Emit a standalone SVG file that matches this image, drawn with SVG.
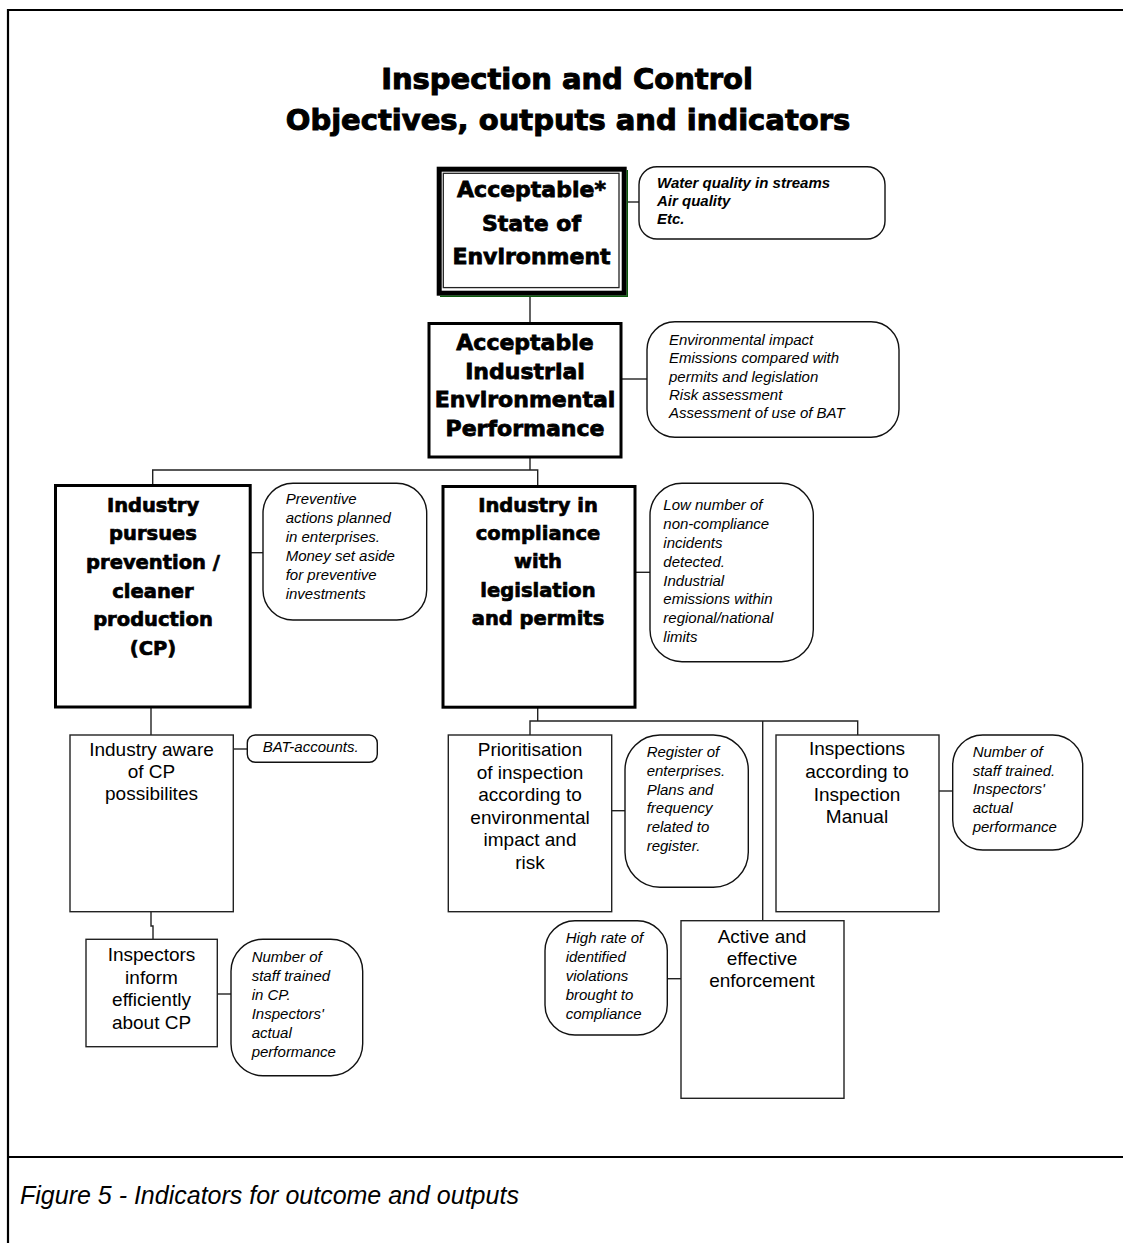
<svg xmlns="http://www.w3.org/2000/svg" width="1123" height="1243" viewBox="0 0 1123 1243">
  <style>
    .frame { fill: none; stroke: #000; stroke-width: 2.2; }
    .title { font-family: "DejaVu Sans", "Liberation Sans", sans-serif; font-weight: bold; font-size: 29px; text-anchor: middle; fill: #000; stroke: #000; stroke-width: 1; }
    .heavy { font-family: "DejaVu Sans", "Liberation Sans", sans-serif; font-weight: bold; font-size: 22px; text-anchor: middle; fill: #000; stroke: #000; stroke-width: 0.8; }
    .heavy-s { font-family: "DejaVu Sans", "Liberation Sans", sans-serif; font-weight: bold; font-size: 19.5px; text-anchor: middle; fill: #000; stroke: #000; stroke-width: 0.7; }
    .plain { font-family: "Liberation Sans", Arial, sans-serif; font-size: 19px; text-anchor: middle; fill: #000; }
    .note { font-family: "Liberation Sans", Arial, sans-serif; font-style: italic; font-size: 15px; fill: #000; }
    .note-b { font-family: "Liberation Sans", Arial, sans-serif; font-style: italic; font-weight: bold; font-size: 15px; fill: #000; }
    .caption { font-family: "Liberation Sans", Arial, sans-serif; font-style: italic; font-size: 25px; fill: #000; }
    .thick { fill: #fff; stroke: #000; stroke-width: 3; }
    .thin { fill: #fff; stroke: #222; stroke-width: 1.4; }
    .bubble { fill: #fff; stroke: #111; stroke-width: 1.4; }
    .link { fill: none; stroke: #222; stroke-width: 1.4; }
  </style>

  <rect width="1123" height="1243" fill="#fff"/>

  <!-- page frame and caption separator -->
  <g id="frame">
    <polyline class="frame" points="8,1243 8,10 1130,10"/>
    <line class="frame" x1="8" y1="1157" x2="1130" y2="1157" stroke-width="2.6"/>
  </g>

  <g id="title">
    <text class="title" x="567" y="89">Inspection and Control</text>
    <text class="title" x="568" y="130">Objectives, outputs and indicators</text>
  </g>

  <!-- connectors -->
  <g id="connectors">
    <line class="link" x1="627" y1="202" x2="639" y2="202"/>
    <line class="link" x1="530" y1="297" x2="530" y2="323"/>
    <line class="link" x1="622" y1="379" x2="647" y2="379"/>
    <line class="link" x1="530" y1="457" x2="530" y2="470"/>
    <polyline class="link" points="152.7,484 152.7,470 537.7,470 537.7,485"/>
    <line class="link" x1="251" y1="552.7" x2="263" y2="552.7"/>
    <line class="link" x1="635" y1="572.3" x2="650" y2="572.3"/>
    <line class="link" x1="151" y1="708" x2="151" y2="735"/>
    <line class="link" x1="233.3" y1="749" x2="247.3" y2="749"/>
    <polyline class="link" points="151,912 151,926 153,926 153,939.3"/>
    <line class="link" x1="217.3" y1="994" x2="231" y2="994"/>
    <line class="link" x1="537.7" y1="707.7" x2="537.7" y2="721"/>
    <polyline class="link" points="530,735 530,721 857.7,721 857.7,735"/>
    <line class="link" x1="762.7" y1="721" x2="762.7" y2="920.7"/>
    <line class="link" x1="611.7" y1="810.7" x2="625" y2="810.7"/>
    <line class="link" x1="939" y1="791" x2="952.7" y2="791"/>
    <line class="link" x1="667.3" y1="978.7" x2="681" y2="978.7"/>
  </g>

  <!-- goal -->
  <g id="state-of-environment">
    <rect x="439.2" y="169.2" width="185" height="124" fill="#fff" stroke="#000" stroke-width="5"/>
    <polyline points="627.3,170 627.3,296.3 440,296.3" fill="none" stroke="#0a5a0a" stroke-width="1.4"/>
    <rect x="443.3" y="173.3" width="175.7" height="114.3" fill="none" stroke="#222" stroke-width="1.3"/>
    <text class="heavy" x="531.5" y="197" font-size="21.5">Acceptable*</text>
    <text class="heavy" x="531.5" y="231" font-size="21.5">State of</text>
    <text class="heavy" x="531.5" y="264" font-size="21.5">Environment</text>
  </g>
  <g id="state-indicators">
    <rect class="bubble" x="639" y="166.7" width="246" height="72.3" rx="18"/>
    <text class="note-b" x="657" y="188">Water quality in streams</text>
    <text class="note-b" x="657" y="206">Air quality</text>
    <text class="note-b" x="657" y="224">Etc.</text>
  </g>

  <!-- outcome -->
  <g id="industrial-performance">
    <rect class="thick" x="429" y="323.5" width="192" height="133.5"/>
    <text class="heavy" x="525" y="350">Acceptable</text>
    <text class="heavy" x="525" y="378.5">Industrial</text>
    <text class="heavy" x="525" y="407.3">Environmental</text>
    <text class="heavy" x="525" y="436">Performance</text>
  </g>
  <g id="performance-indicators">
    <rect class="bubble" x="647" y="321.7" width="252" height="115.6" rx="28"/>
    <text class="note" x="669" y="345">Environmental impact</text>
    <text class="note" x="669" y="363.3">Emissions compared with</text>
    <text class="note" x="669" y="381.6">permits and legislation</text>
    <text class="note" x="669" y="400">Risk assessment</text>
    <text class="note" x="669" y="418.3">Assessment of use of BAT</text>
  </g>

  <!-- sub-objectives -->
  <g id="prevention">
    <rect class="thick" x="55.5" y="485.5" width="194.7" height="221.5"/>
    <text class="heavy-s" x="153" y="511.7">Industry</text>
    <text class="heavy-s" x="153" y="540.4">pursues</text>
    <text class="heavy-s" x="153" y="569">prevention /</text>
    <text class="heavy-s" x="153" y="597.7">cleaner</text>
    <text class="heavy-s" x="153" y="626.4">production</text>
    <text class="heavy-s" x="153" y="655">(CP)</text>
  </g>
  <g id="prevention-indicators">
    <rect class="bubble" x="263" y="483.3" width="163.7" height="136.7" rx="30"/>
    <text class="note" x="285.7" y="504">Preventive</text>
    <text class="note" x="285.7" y="523">actions planned</text>
    <text class="note" x="285.7" y="542">in enterprises.</text>
    <text class="note" x="285.7" y="561">Money set aside</text>
    <text class="note" x="285.7" y="580">for preventive</text>
    <text class="note" x="285.7" y="599">investments</text>
  </g>

  <g id="compliance">
    <rect class="thick" x="443" y="486.5" width="192" height="220.7"/>
    <text class="heavy-s" x="538" y="511.7">Industry in</text>
    <text class="heavy-s" x="538" y="540">compliance</text>
    <text class="heavy-s" x="538" y="568.3">with</text>
    <text class="heavy-s" x="538" y="596.7">legislation</text>
    <text class="heavy-s" x="538" y="625">and permits</text>
  </g>
  <g id="compliance-indicators">
    <rect class="bubble" x="650" y="483.3" width="163.3" height="178.4" rx="32"/>
    <text class="note" x="663.3" y="510">Low number of</text>
    <text class="note" x="663.3" y="529">non-compliance</text>
    <text class="note" x="663.3" y="548">incidents</text>
    <text class="note" x="663.3" y="566.7">detected.</text>
    <text class="note" x="663.3" y="585.5">Industrial</text>
    <text class="note" x="663.3" y="604.3">emissions within</text>
    <text class="note" x="663.3" y="623">regional/national</text>
    <text class="note" x="663.3" y="641.7">limits</text>
  </g>

  <!-- outputs: cleaner production branch -->
  <g id="cp-awareness">
    <rect class="thin" x="70" y="735" width="163.3" height="176.7"/>
    <text class="plain" x="151.5" y="756">Industry aware</text>
    <text class="plain" x="151.5" y="778">of CP</text>
    <text class="plain" x="151.5" y="800">possibilites</text>
  </g>
  <g id="bat-accounts">
    <rect class="bubble" x="247.3" y="735" width="130" height="27.3" rx="8"/>
    <text class="note" x="262.7" y="751.7">BAT-accounts.</text>
  </g>

  <g id="inspectors-inform">
    <rect class="thin" x="86" y="939.3" width="131.3" height="107.4"/>
    <text class="plain" x="151.5" y="961">Inspectors</text>
    <text class="plain" x="151.5" y="983.7">inform</text>
    <text class="plain" x="151.5" y="1006.4">efficiently</text>
    <text class="plain" x="151.5" y="1029.1">about CP</text>
  </g>
  <g id="cp-training-indicators">
    <rect class="bubble" x="231" y="939.3" width="131.7" height="136.4" rx="32"/>
    <text class="note" x="251.7" y="961.7">Number of</text>
    <text class="note" x="251.7" y="980.7">staff trained</text>
    <text class="note" x="251.7" y="999.7">in CP.</text>
    <text class="note" x="251.7" y="1018.7">Inspectors'</text>
    <text class="note" x="251.7" y="1037.7">actual</text>
    <text class="note" x="251.7" y="1056.7">performance</text>
  </g>

  <!-- outputs: compliance branch -->
  <g id="prioritisation">
    <rect class="thin" x="448.3" y="735" width="163.4" height="176.7"/>
    <text class="plain" x="530" y="756">Prioritisation</text>
    <text class="plain" x="530" y="778.5">of inspection</text>
    <text class="plain" x="530" y="801">according to</text>
    <text class="plain" x="530" y="823.5">environmental</text>
    <text class="plain" x="530" y="846">impact and</text>
    <text class="plain" x="530" y="868.5">risk</text>
  </g>
  <g id="register-indicators">
    <rect class="bubble" x="625" y="735" width="123.3" height="152.3" rx="35"/>
    <text class="note" x="646.7" y="757.3">Register of</text>
    <text class="note" x="646.7" y="776">enterprises.</text>
    <text class="note" x="646.7" y="794.7">Plans and</text>
    <text class="note" x="646.7" y="813.4">frequency</text>
    <text class="note" x="646.7" y="832.1">related to</text>
    <text class="note" x="646.7" y="850.8">register.</text>
  </g>

  <g id="inspection-manual">
    <rect class="thin" x="776" y="735" width="163" height="176.7"/>
    <text class="plain" x="857" y="755">Inspections</text>
    <text class="plain" x="857" y="777.8">according to</text>
    <text class="plain" x="857" y="800.6">Inspection</text>
    <text class="plain" x="857" y="823.4">Manual</text>
  </g>
  <g id="manual-indicators">
    <rect class="bubble" x="952.7" y="735" width="130" height="115" rx="30"/>
    <text class="note" x="972.7" y="756.7">Number of</text>
    <text class="note" x="972.7" y="775.5">staff trained.</text>
    <text class="note" x="972.7" y="794.3">Inspectors'</text>
    <text class="note" x="972.7" y="813.1">actual</text>
    <text class="note" x="972.7" y="831.9">performance</text>
  </g>

  <g id="enforcement">
    <rect class="thin" x="681" y="920.7" width="163" height="177.6"/>
    <text class="plain" x="762" y="942.7">Active and</text>
    <text class="plain" x="762" y="965">effective</text>
    <text class="plain" x="762" y="987.3">enforcement</text>
  </g>
  <g id="enforcement-indicators">
    <rect class="bubble" x="545" y="920.7" width="122.3" height="114.3" rx="30"/>
    <text class="note" x="565.7" y="943.3">High rate of</text>
    <text class="note" x="565.7" y="962.3">identified</text>
    <text class="note" x="565.7" y="981.3">violations</text>
    <text class="note" x="565.7" y="1000.3">brought to</text>
    <text class="note" x="565.7" y="1019.3">compliance</text>
  </g>

  <g id="caption">
    <text class="caption" x="20" y="1204">Figure 5 - Indicators for outcome and outputs</text>
  </g>
</svg>
